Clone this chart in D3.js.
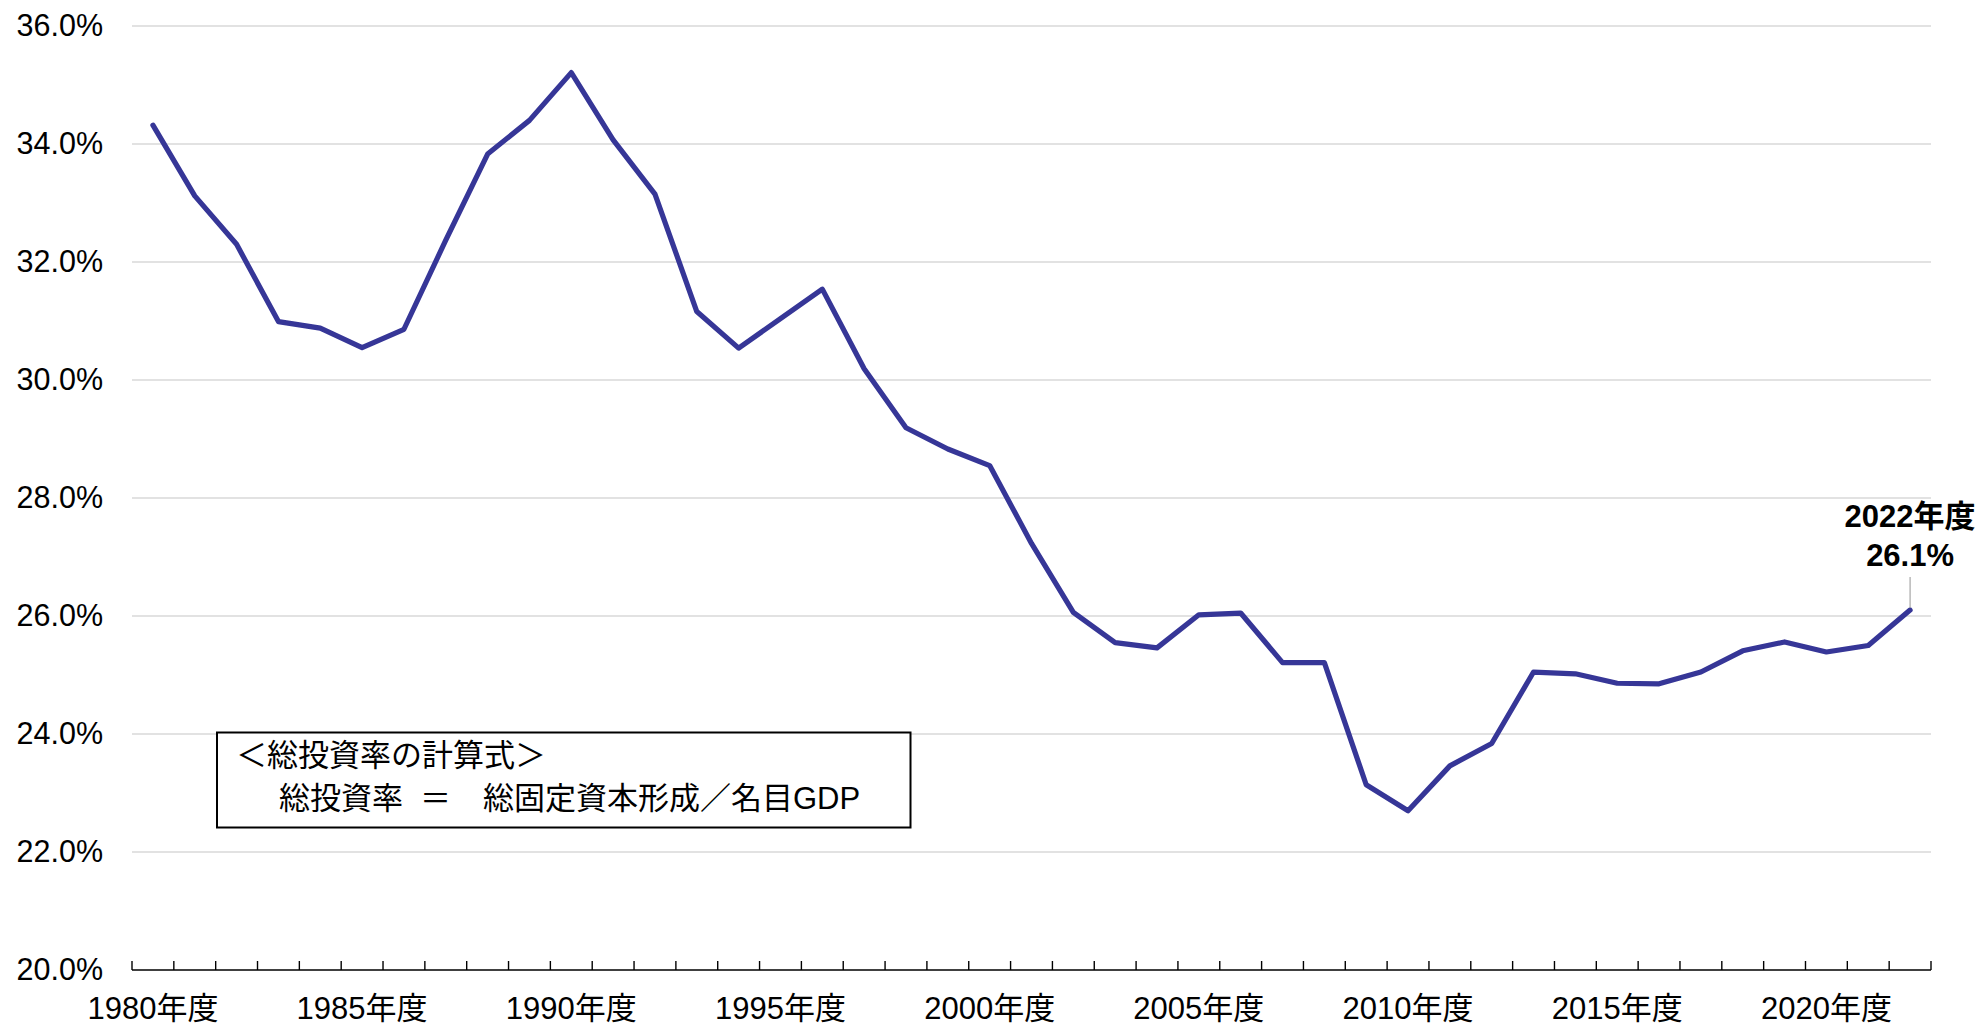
<!DOCTYPE html>
<html lang="ja">
<head>
<meta charset="utf-8">
<title>総投資率の推移</title>
<script src="https://cdn.jsdelivr.net/npm/d3@7"></script>
<style>
  html, body { margin: 0; padding: 0; background: #fff; }
  svg { display: block; }
  text { font-family: "Liberation Sans", Arial, "Noto Sans CJK JP", sans-serif; fill: #000; }
</style>
</head>
<body>
<svg id="chart" width="1980" height="1025"></svg>
<script>
// 年度
const years = d3.range(1980, 2023);
// 総投資率（%）
const rates = [
  34.32, 33.12, 32.30, 30.99, 30.88, 30.55, 30.86, 32.37, 33.83, 34.40,
  35.21, 34.07, 33.15, 31.16, 30.54, 31.04, 31.54, 30.19, 29.19, 28.83,
  28.55, 27.23, 26.06, 25.55, 25.46, 26.02, 26.05, 25.21, 25.21, 23.14,
  22.70, 23.46, 23.84, 25.05, 25.02, 24.86, 24.85, 25.05, 25.41, 25.56,
  25.39, 25.50, 26.1
];
// 縦軸の目盛り（%）
const yTicks = [20, 22, 24, 26, 28, 30, 32, 34, 36];
// 横軸のラベルを表示する年度
const xLabelYears = [1980, 1985, 1990, 1995, 2000, 2005, 2010, 2015, 2020];
// 計算式の注記
const noteTitle = "＜総投資率の計算式＞";
const noteLeft = "総投資率";
const noteEq = "＝";
const noteRight = "総固定資本形成／名目GDP";

const data = years.map((yr, i) => ({ year: yr, value: rates[i] }));

const svg = d3.select("#chart");
const plotLeft = 132, plotRight = 1931, plotTop = 26, plotBottom = 970;

const x = d3.scaleBand().domain(years).range([plotLeft, plotRight]).padding(0);
const y = d3.scaleLinear().domain([20, 36]).range([plotBottom, plotTop]);
const cx = yr => x(yr) + x.bandwidth() / 2;

// 横グリッド線
svg.append("g")
  .selectAll("line")
  .data(yTicks.filter(t => t > 20))
  .join("line")
  .attr("x1", plotLeft).attr("x2", plotRight)
  .attr("y1", d => y(d)).attr("y2", d => y(d))
  .attr("stroke", "#d9d9d9").attr("stroke-width", 1.5);

// 縦軸ラベル
const yAxis = d3.axisLeft(y).tickValues(yTicks)
  .tickFormat(d => d3.format(".1f")(d) + "%")
  .tickSize(0).tickPadding(29);
svg.append("g")
  .attr("transform", `translate(${plotLeft},0)`)
  .call(yAxis)
  .call(g => g.select(".domain").remove())
  .call(g => g.selectAll("text")
    .attr("font-size", 30.5)
    .attr("font-family", "'Liberation Sans', Arial, sans-serif")
    .attr("fill", "#000"));

// 横軸（区切り目盛りは内側向き）
const boundaries = years.map(yr => x(yr)).concat([plotRight]);
const xg = svg.append("g");
xg.append("line")
  .attr("x1", plotLeft).attr("x2", plotRight)
  .attr("y1", plotBottom).attr("y2", plotBottom)
  .attr("stroke", "#000").attr("stroke-width", 1.6);
xg.selectAll("line.tick")
  .data(boundaries)
  .join("line")
  .attr("class", "tick")
  .attr("x1", d => d).attr("x2", d => d)
  .attr("y1", plotBottom).attr("y2", plotBottom - 9)
  .attr("stroke", "#000").attr("stroke-width", 1.4);
xg.selectAll("text")
  .data(xLabelYears)
  .join("text")
  .attr("x", d => cx(d))
  .attr("y", 1019)
  .attr("text-anchor", "middle")
  .attr("font-size", 31)
  .text(d => d + "年度");

// 総投資率の折れ線
const line = d3.line().x(d => cx(d.year)).y(d => y(d.value));
svg.append("path")
  .datum(data)
  .attr("d", line)
  .attr("fill", "none")
  .attr("stroke", "#363697")
  .attr("stroke-width", 5.2)
  .attr("stroke-linejoin", "round")
  .attr("stroke-linecap", "round");

// 最新年度の注記
const last = data[data.length - 1];
const lx = cx(last.year);
svg.append("line")
  .attr("x1", lx).attr("x2", lx)
  .attr("y1", 577).attr("y2", y(last.value) - 2)
  .attr("stroke", "#a6a6a6").attr("stroke-width", 1.2);
const lbl = svg.append("text")
  .attr("text-anchor", "middle")
  .attr("font-size", 31)
  .attr("font-weight", "bold");
lbl.append("tspan").attr("x", lx).attr("y", 527).text(last.year + "年度");
lbl.append("tspan").attr("x", lx).attr("y", 566).text(d3.format(".1f")(last.value) + "%");

// 計算式の枠
svg.append("rect")
  .attr("x", 217).attr("y", 732.5)
  .attr("width", 693.5).attr("height", 95)
  .attr("fill", "#fff")
  .attr("stroke", "#000").attr("stroke-width", 2);
svg.append("text")
  .attr("x", 236).attr("y", 766)
  .attr("font-size", 31)
  .attr("font-family", "'Noto Sans CJK JP', sans-serif")
  .text(noteTitle);
const formula = svg.append("text")
  .attr("y", 809)
  .attr("font-size", 31)
  .attr("font-family", "'Noto Sans CJK JP', sans-serif");
formula.append("tspan").attr("x", 279).text(noteLeft);
formula.append("tspan").attr("x", 420).text(noteEq);
formula.append("tspan").attr("x", 483).text(noteRight);
</script>
</body>
</html>
